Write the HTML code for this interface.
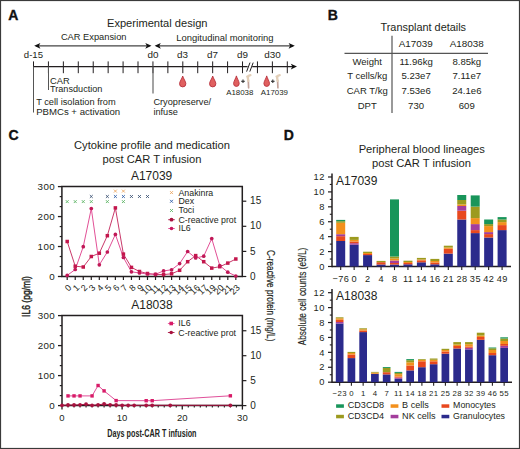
<!DOCTYPE html>
<html><head><meta charset="utf-8"><style>
html,body{margin:0;padding:0;background:#fff;}
svg{display:block;font-family:"Liberation Sans", sans-serif;}
</style></head><body>
<svg width="520" height="449" viewBox="0 0 520 449">
<rect x="0.5" y="0.5" width="519" height="448" fill="#fff" stroke="#3a3a3a" stroke-width="1.2"/>
<text x="8.20" y="19.60" font-size="14" text-anchor="start" font-weight="bold" fill="#111" stroke="#111" stroke-width="0.35">A</text>
<text x="107.00" y="26.90" font-size="11.1" text-anchor="start" font-weight="normal" fill="#231f20" >Experimental design</text>
<text x="60.90" y="40.30" font-size="9.3" text-anchor="start" font-weight="normal" fill="#231f20" >CAR Expansion</text>
<text x="176.30" y="40.70" font-size="9.42" text-anchor="start" font-weight="normal" fill="#231f20" >Longitudinal monitoring</text>
<line x1="36.00" y1="45.80" x2="149.50" y2="45.80" stroke="#444" stroke-width="1.3" />
<line x1="156.50" y1="45.80" x2="293.00" y2="45.80" stroke="#444" stroke-width="1.3" />
<path d="M34.20,45.80 L40.40,42.90 L38.85,45.80 L40.40,48.70 Z" fill="#111"/>
<path d="M151.50,45.80 L145.30,42.90 L146.85,45.80 L145.30,48.70 Z" fill="#111"/>
<path d="M154.60,45.80 L160.80,42.90 L159.25,45.80 L160.80,48.70 Z" fill="#111"/>
<path d="M294.80,45.80 L288.60,42.90 L290.15,45.80 L288.60,48.70 Z" fill="#111"/>
<text x="23.80" y="58.00" font-size="9.6" text-anchor="start" font-weight="normal" fill="#231f20" >d-15</text>
<text x="152.90" y="58.00" font-size="9.9" text-anchor="middle" font-weight="normal" fill="#231f20" >d0</text>
<text x="182.60" y="58.00" font-size="9.9" text-anchor="middle" font-weight="normal" fill="#231f20" >d3</text>
<text x="212.60" y="58.00" font-size="9.9" text-anchor="middle" font-weight="normal" fill="#231f20" >d7</text>
<text x="242.60" y="58.00" font-size="9.9" text-anchor="middle" font-weight="normal" fill="#231f20" >d9</text>
<text x="272.40" y="58.00" font-size="9.9" text-anchor="middle" font-weight="normal" fill="#231f20" >d30</text>
<line x1="33.50" y1="66.60" x2="247.60" y2="66.60" stroke="#231f20" stroke-width="1.1" />
<line x1="252.20" y1="66.60" x2="294.00" y2="66.60" stroke="#231f20" stroke-width="1.1" />
<path d="M297.00,66.60 L290.80,63.70 L292.35,66.60 L290.80,69.50 Z" fill="#111"/>
<line x1="33.50" y1="61.40" x2="33.50" y2="73.20" stroke="#231f20" stroke-width="1" />
<line x1="48.43" y1="61.40" x2="48.43" y2="73.20" stroke="#231f20" stroke-width="1" />
<line x1="63.36" y1="61.40" x2="63.36" y2="73.20" stroke="#231f20" stroke-width="1" />
<line x1="78.29" y1="61.40" x2="78.29" y2="73.20" stroke="#231f20" stroke-width="1" />
<line x1="93.22" y1="61.40" x2="93.22" y2="73.20" stroke="#231f20" stroke-width="1" />
<line x1="108.15" y1="61.40" x2="108.15" y2="73.20" stroke="#231f20" stroke-width="1" />
<line x1="123.08" y1="61.40" x2="123.08" y2="73.20" stroke="#231f20" stroke-width="1" />
<line x1="138.01" y1="61.40" x2="138.01" y2="73.20" stroke="#231f20" stroke-width="1" />
<line x1="152.94" y1="61.40" x2="152.94" y2="73.20" stroke="#231f20" stroke-width="1" />
<line x1="167.87" y1="61.40" x2="167.87" y2="73.20" stroke="#231f20" stroke-width="1" />
<line x1="182.80" y1="61.40" x2="182.80" y2="73.20" stroke="#231f20" stroke-width="1" />
<line x1="197.73" y1="61.40" x2="197.73" y2="73.20" stroke="#231f20" stroke-width="1" />
<line x1="212.66" y1="61.40" x2="212.66" y2="73.20" stroke="#231f20" stroke-width="1" />
<line x1="227.59" y1="61.40" x2="227.59" y2="73.20" stroke="#231f20" stroke-width="1" />
<line x1="242.52" y1="61.40" x2="242.52" y2="73.20" stroke="#231f20" stroke-width="1" />
<line x1="257.45" y1="61.40" x2="257.45" y2="73.20" stroke="#231f20" stroke-width="1" />
<line x1="272.38" y1="61.40" x2="272.38" y2="73.20" stroke="#231f20" stroke-width="1" />
<line x1="287.31" y1="61.40" x2="287.31" y2="73.20" stroke="#231f20" stroke-width="1" />
<line x1="33.50" y1="66.60" x2="33.50" y2="112.50" stroke="#555" stroke-width="1" />
<line x1="48.50" y1="66.60" x2="48.50" y2="90.00" stroke="#555" stroke-width="1" />
<line x1="153.00" y1="66.60" x2="153.00" y2="93.50" stroke="#666" stroke-width="1.2" />
<line x1="246.60" y1="71.60" x2="250.00" y2="62.60" stroke="#231f20" stroke-width="1" />
<line x1="249.80" y1="71.60" x2="253.20" y2="62.60" stroke="#231f20" stroke-width="1" />
<text x="50.00" y="83.80" font-size="9.3" text-anchor="start" font-weight="normal" fill="#231f20" >CAR</text>
<text x="50.00" y="91.50" font-size="9.15" text-anchor="start" font-weight="normal" fill="#231f20" >Transduction</text>
<text x="36.20" y="104.80" font-size="9.25" text-anchor="start" font-weight="normal" fill="#231f20" >T cell isolation from</text>
<text x="36.20" y="115.10" font-size="9.6" text-anchor="start" font-weight="normal" fill="#231f20" >PBMCs + activation</text>
<text x="153.40" y="104.80" font-size="9.2" text-anchor="start" font-weight="normal" fill="#231f20" >Cryopreserve/</text>
<text x="153.40" y="115.10" font-size="9.2" text-anchor="start" font-weight="normal" fill="#231f20" >infuse</text>
<path d="M182.70,76.00 C183.30,78.50 185.85,81.55 185.85,83.75 A3.15,3.15 0 0 1 179.55,83.75 C179.55,81.55 182.10,78.50 182.70,76.00 Z" fill="#e0605f" stroke="#b8303c" stroke-width="0.9"/>
<path d="M212.70,76.00 C213.30,78.50 215.85,81.55 215.85,83.75 A3.15,3.15 0 0 1 209.55,83.75 C209.55,81.55 212.10,78.50 212.70,76.00 Z" fill="#e0605f" stroke="#b8303c" stroke-width="0.9"/>
<path d="M236.40,75.90 C237.00,78.40 239.20,81.40 239.20,83.60 A2.80,2.80 0 0 1 233.60,83.60 C233.60,81.40 235.80,78.40 236.40,75.90 Z" fill="#e0605f" stroke="#b8303c" stroke-width="0.9"/>
<line x1="241.20" y1="81.30" x2="244.80" y2="81.30" stroke="#333" stroke-width="1.1" />
<line x1="243.00" y1="79.50" x2="243.00" y2="83.10" stroke="#333" stroke-width="1.1" />
<path d="M248.60,87.80 L248.30,80.30" fill="none" stroke="#c4a39a" stroke-width="1.7" stroke-linecap="round"/>
<path d="M248.30,80.80 L247.80,77.80 Q248.00,75.50 250.40,75.20" fill="none" stroke="#e3cfb8" stroke-width="2.3" stroke-linecap="round"/>
<circle cx="247.20" cy="76.60" r="1.1" fill="#e3cfb8"/>
<path d="M266.70,75.90 C267.30,78.40 269.50,81.40 269.50,83.60 A2.80,2.80 0 0 1 263.90,83.60 C263.90,81.40 266.10,78.40 266.70,75.90 Z" fill="#e0605f" stroke="#b8303c" stroke-width="0.9"/>
<line x1="271.00" y1="81.30" x2="274.60" y2="81.30" stroke="#333" stroke-width="1.1" />
<line x1="272.80" y1="79.50" x2="272.80" y2="83.10" stroke="#333" stroke-width="1.1" />
<path d="M277.90,87.80 L277.60,80.30" fill="none" stroke="#c4a39a" stroke-width="1.7" stroke-linecap="round"/>
<path d="M277.60,80.80 L277.10,77.80 Q277.30,75.50 279.70,75.20" fill="none" stroke="#e3cfb8" stroke-width="2.3" stroke-linecap="round"/>
<circle cx="276.50" cy="76.60" r="1.1" fill="#e3cfb8"/>
<text x="239.80" y="94.60" font-size="7.9" text-anchor="middle" font-weight="normal" fill="#231f20" >A18038</text>
<text x="274.40" y="94.60" font-size="7.9" text-anchor="middle" font-weight="normal" fill="#231f20" >A17039</text>
<text x="327.80" y="20.10" font-size="14" text-anchor="start" font-weight="bold" fill="#111" stroke="#111" stroke-width="0.35">B</text>
<text x="380.50" y="31.00" font-size="10.9" text-anchor="start" font-weight="normal" fill="#231f20" >Transplant details</text>
<line x1="392.00" y1="35.80" x2="392.00" y2="113.00" stroke="#555" stroke-width="1.2" />
<line x1="344.50" y1="53.30" x2="488.00" y2="53.30" stroke="#555" stroke-width="1.2" />
<text x="415.70" y="46.50" font-size="9.9" text-anchor="middle" font-weight="normal" fill="#231f20" >A17039</text>
<text x="466.70" y="46.50" font-size="9.9" text-anchor="middle" font-weight="normal" fill="#231f20" >A18038</text>
<text x="367.20" y="64.60" font-size="9.5" text-anchor="middle" font-weight="normal" fill="#231f20" >Weight</text>
<text x="416.10" y="64.60" font-size="9.6" text-anchor="middle" font-weight="normal" fill="#231f20" >11.96kg</text>
<text x="466.80" y="64.60" font-size="9.6" text-anchor="middle" font-weight="normal" fill="#231f20" >8.85kg</text>
<text x="367.20" y="79.10" font-size="9.5" text-anchor="middle" font-weight="normal" fill="#231f20" >T cells/kg</text>
<text x="416.10" y="79.10" font-size="9.6" text-anchor="middle" font-weight="normal" fill="#231f20" >5.23e7</text>
<text x="466.80" y="79.10" font-size="9.6" text-anchor="middle" font-weight="normal" fill="#231f20" >7.11e7</text>
<text x="367.20" y="93.80" font-size="9.5" text-anchor="middle" font-weight="normal" fill="#231f20" >CAR T/kg</text>
<text x="416.10" y="93.80" font-size="9.6" text-anchor="middle" font-weight="normal" fill="#231f20" >7.53e6</text>
<text x="466.80" y="93.80" font-size="9.6" text-anchor="middle" font-weight="normal" fill="#231f20" >24.1e6</text>
<text x="367.20" y="108.60" font-size="9.5" text-anchor="middle" font-weight="normal" fill="#231f20" >DPT</text>
<text x="416.10" y="108.60" font-size="9.6" text-anchor="middle" font-weight="normal" fill="#231f20" >730</text>
<text x="466.80" y="108.60" font-size="9.6" text-anchor="middle" font-weight="normal" fill="#231f20" >609</text>
<text x="8.40" y="139.50" font-size="14" text-anchor="start" font-weight="bold" fill="#111" stroke="#111" stroke-width="0.35">C</text>
<text x="152.00" y="148.60" font-size="11.2" text-anchor="middle" font-weight="normal" fill="#231f20" >Cytokine profile and medication</text>
<text x="152.00" y="162.70" font-size="11.2" text-anchor="middle" font-weight="normal" fill="#231f20" >post CAR T infusion</text>
<text x="151.60" y="179.90" font-size="12" text-anchor="middle" font-weight="normal" fill="#231f20" >A17039</text>
<text x="151.90" y="308.90" font-size="12" text-anchor="middle" font-weight="normal" fill="#231f20" >A18038</text>
<path d="M61.9,276.5 L61.9,186.6 L242.3,186.6 L242.3,276.5 Z" fill="none" stroke="#231f20" stroke-width="1.5"/>
<line x1="57.90" y1="276.50" x2="61.90" y2="276.50" stroke="#231f20" stroke-width="1.3" />
<text x="55.00" y="279.80" font-size="9.8" text-anchor="end" font-weight="normal" fill="#231f20" letter-spacing="0.35">0</text>
<line x1="59.70" y1="266.51" x2="61.90" y2="266.51" stroke="#231f20" stroke-width="1.2" />
<line x1="59.70" y1="256.52" x2="61.90" y2="256.52" stroke="#231f20" stroke-width="1.2" />
<line x1="57.90" y1="246.53" x2="61.90" y2="246.53" stroke="#231f20" stroke-width="1.3" />
<text x="55.00" y="249.83" font-size="9.8" text-anchor="end" font-weight="normal" fill="#231f20" letter-spacing="0.35">100</text>
<line x1="59.70" y1="236.54" x2="61.90" y2="236.54" stroke="#231f20" stroke-width="1.2" />
<line x1="59.70" y1="226.56" x2="61.90" y2="226.56" stroke="#231f20" stroke-width="1.2" />
<line x1="57.90" y1="216.57" x2="61.90" y2="216.57" stroke="#231f20" stroke-width="1.3" />
<text x="55.00" y="219.87" font-size="9.8" text-anchor="end" font-weight="normal" fill="#231f20" letter-spacing="0.35">200</text>
<line x1="59.70" y1="206.58" x2="61.90" y2="206.58" stroke="#231f20" stroke-width="1.2" />
<line x1="59.70" y1="196.59" x2="61.90" y2="196.59" stroke="#231f20" stroke-width="1.2" />
<line x1="57.90" y1="186.60" x2="61.90" y2="186.60" stroke="#231f20" stroke-width="1.3" />
<text x="55.00" y="189.90" font-size="9.8" text-anchor="end" font-weight="normal" fill="#231f20" letter-spacing="0.35">300</text>
<line x1="242.30" y1="276.50" x2="246.30" y2="276.50" stroke="#231f20" stroke-width="1.2" />
<text x="250.10" y="279.60" font-size="10" text-anchor="start" font-weight="normal" fill="#231f20" >0</text>
<line x1="242.30" y1="251.40" x2="246.30" y2="251.40" stroke="#231f20" stroke-width="1.2" />
<text x="250.10" y="254.50" font-size="10" text-anchor="start" font-weight="normal" fill="#231f20" >5</text>
<line x1="242.30" y1="226.30" x2="246.30" y2="226.30" stroke="#231f20" stroke-width="1.2" />
<text x="250.10" y="229.40" font-size="10" text-anchor="start" font-weight="normal" fill="#231f20" >10</text>
<line x1="242.30" y1="201.20" x2="246.30" y2="201.20" stroke="#231f20" stroke-width="1.2" />
<text x="250.10" y="204.30" font-size="10" text-anchor="start" font-weight="normal" fill="#231f20" >15</text>
<line x1="67.20" y1="276.50" x2="67.20" y2="280.00" stroke="#231f20" stroke-width="1.2" />
<text x="71.90" y="288.20" font-size="8.9" text-anchor="end" font-weight="normal" fill="#231f20" transform="rotate(-45 71.90 288.2)">0</text>
<line x1="75.23" y1="276.50" x2="75.23" y2="280.00" stroke="#231f20" stroke-width="1.2" />
<text x="79.93" y="288.20" font-size="8.9" text-anchor="end" font-weight="normal" fill="#231f20" transform="rotate(-45 79.93 288.2)">1</text>
<line x1="83.26" y1="276.50" x2="83.26" y2="280.00" stroke="#231f20" stroke-width="1.2" />
<text x="87.96" y="288.20" font-size="8.9" text-anchor="end" font-weight="normal" fill="#231f20" transform="rotate(-45 87.96 288.2)">2</text>
<line x1="91.29" y1="276.50" x2="91.29" y2="280.00" stroke="#231f20" stroke-width="1.2" />
<text x="95.99" y="288.20" font-size="8.9" text-anchor="end" font-weight="normal" fill="#231f20" transform="rotate(-45 95.99 288.2)">3</text>
<line x1="99.32" y1="276.50" x2="99.32" y2="280.00" stroke="#231f20" stroke-width="1.2" />
<text x="104.02" y="288.20" font-size="8.9" text-anchor="end" font-weight="normal" fill="#231f20" transform="rotate(-45 104.02 288.2)">4</text>
<line x1="107.35" y1="276.50" x2="107.35" y2="280.00" stroke="#231f20" stroke-width="1.2" />
<text x="112.05" y="288.20" font-size="8.9" text-anchor="end" font-weight="normal" fill="#231f20" transform="rotate(-45 112.05 288.2)">5</text>
<line x1="115.38" y1="276.50" x2="115.38" y2="280.00" stroke="#231f20" stroke-width="1.2" />
<text x="120.08" y="288.20" font-size="8.9" text-anchor="end" font-weight="normal" fill="#231f20" transform="rotate(-45 120.08 288.2)">6</text>
<line x1="123.41" y1="276.50" x2="123.41" y2="280.00" stroke="#231f20" stroke-width="1.2" />
<text x="128.11" y="288.20" font-size="8.9" text-anchor="end" font-weight="normal" fill="#231f20" transform="rotate(-45 128.11 288.2)">7</text>
<line x1="131.44" y1="276.50" x2="131.44" y2="280.00" stroke="#231f20" stroke-width="1.2" />
<text x="136.14" y="288.20" font-size="8.9" text-anchor="end" font-weight="normal" fill="#231f20" transform="rotate(-45 136.14 288.2)">8</text>
<line x1="139.47" y1="276.50" x2="139.47" y2="280.00" stroke="#231f20" stroke-width="1.2" />
<text x="144.17" y="288.20" font-size="8.9" text-anchor="end" font-weight="normal" fill="#231f20" transform="rotate(-45 144.17 288.2)">9</text>
<line x1="147.50" y1="276.50" x2="147.50" y2="280.00" stroke="#231f20" stroke-width="1.2" />
<text x="152.20" y="288.20" font-size="8.9" text-anchor="end" font-weight="normal" fill="#231f20" transform="rotate(-45 152.20 288.2)">10</text>
<line x1="155.53" y1="276.50" x2="155.53" y2="280.00" stroke="#231f20" stroke-width="1.2" />
<text x="160.23" y="288.20" font-size="8.9" text-anchor="end" font-weight="normal" fill="#231f20" transform="rotate(-45 160.23 288.2)">11</text>
<line x1="163.56" y1="276.50" x2="163.56" y2="280.00" stroke="#231f20" stroke-width="1.2" />
<text x="168.26" y="288.20" font-size="8.9" text-anchor="end" font-weight="normal" fill="#231f20" transform="rotate(-45 168.26 288.2)">12</text>
<line x1="171.59" y1="276.50" x2="171.59" y2="280.00" stroke="#231f20" stroke-width="1.2" />
<text x="176.29" y="288.20" font-size="8.9" text-anchor="end" font-weight="normal" fill="#231f20" transform="rotate(-45 176.29 288.2)">13</text>
<line x1="179.62" y1="276.50" x2="179.62" y2="280.00" stroke="#231f20" stroke-width="1.2" />
<text x="184.32" y="288.20" font-size="8.9" text-anchor="end" font-weight="normal" fill="#231f20" transform="rotate(-45 184.32 288.2)">14</text>
<line x1="187.65" y1="276.50" x2="187.65" y2="280.00" stroke="#231f20" stroke-width="1.2" />
<text x="192.35" y="288.20" font-size="8.9" text-anchor="end" font-weight="normal" fill="#231f20" transform="rotate(-45 192.35 288.2)">15</text>
<line x1="195.68" y1="276.50" x2="195.68" y2="280.00" stroke="#231f20" stroke-width="1.2" />
<text x="200.38" y="288.20" font-size="8.9" text-anchor="end" font-weight="normal" fill="#231f20" transform="rotate(-45 200.38 288.2)">16</text>
<line x1="203.71" y1="276.50" x2="203.71" y2="280.00" stroke="#231f20" stroke-width="1.2" />
<text x="208.41" y="288.20" font-size="8.9" text-anchor="end" font-weight="normal" fill="#231f20" transform="rotate(-45 208.41 288.2)">17</text>
<line x1="211.74" y1="276.50" x2="211.74" y2="280.00" stroke="#231f20" stroke-width="1.2" />
<text x="216.44" y="288.20" font-size="8.9" text-anchor="end" font-weight="normal" fill="#231f20" transform="rotate(-45 216.44 288.2)">19</text>
<line x1="219.77" y1="276.50" x2="219.77" y2="280.00" stroke="#231f20" stroke-width="1.2" />
<text x="224.47" y="288.20" font-size="8.9" text-anchor="end" font-weight="normal" fill="#231f20" transform="rotate(-45 224.47 288.2)">20</text>
<line x1="227.80" y1="276.50" x2="227.80" y2="280.00" stroke="#231f20" stroke-width="1.2" />
<text x="232.50" y="288.20" font-size="8.9" text-anchor="end" font-weight="normal" fill="#231f20" transform="rotate(-45 232.50 288.2)">21</text>
<line x1="235.83" y1="276.50" x2="235.83" y2="280.00" stroke="#231f20" stroke-width="1.2" />
<text x="240.53" y="288.20" font-size="8.9" text-anchor="end" font-weight="normal" fill="#231f20" transform="rotate(-45 240.53 288.2)">23</text>
<polyline points="67.20,241.5 75.23,266.2 83.26,267 91.29,256.5 99.32,253.2 107.35,235.7 115.38,207.9 123.41,254.1 131.44,267.4 139.47,271.5 147.50,273.5 155.53,274.4 163.56,274.6 171.59,273.8 179.62,270.3 187.65,261.7 195.68,255.6 203.71,261.7 211.74,268.1 219.77,266.7 227.80,263.1 235.83,259" fill="none" stroke="#c9396a" stroke-width="1"/>
<polyline points="67.20,275.4 75.23,269.5 83.26,246.7 91.29,208.5 99.32,264.8 107.35,252 115.38,234.4 123.41,257.5 131.44,271.8 139.47,273 147.50,274 155.53,274.3 163.56,270.9 171.59,269.8 179.62,263.6 187.65,251.5 195.68,258 203.71,256.2 211.74,238.6 219.77,265.6 227.80,272.2 235.83,276" fill="none" stroke="#e25096" stroke-width="1"/>
<rect x="65.45" y="239.75" width="3.50" height="3.50" fill="#c3164c"/>
<rect x="73.48" y="264.45" width="3.50" height="3.50" fill="#c3164c"/>
<rect x="81.51" y="265.25" width="3.50" height="3.50" fill="#c3164c"/>
<rect x="89.54" y="254.75" width="3.50" height="3.50" fill="#c3164c"/>
<rect x="97.57" y="251.45" width="3.50" height="3.50" fill="#c3164c"/>
<rect x="105.60" y="233.95" width="3.50" height="3.50" fill="#c3164c"/>
<rect x="113.63" y="206.15" width="3.50" height="3.50" fill="#c3164c"/>
<rect x="121.66" y="252.35" width="3.50" height="3.50" fill="#c3164c"/>
<rect x="129.69" y="265.65" width="3.50" height="3.50" fill="#c3164c"/>
<rect x="137.72" y="269.75" width="3.50" height="3.50" fill="#c3164c"/>
<rect x="145.75" y="271.75" width="3.50" height="3.50" fill="#c3164c"/>
<rect x="153.78" y="272.65" width="3.50" height="3.50" fill="#c3164c"/>
<rect x="161.81" y="272.85" width="3.50" height="3.50" fill="#c3164c"/>
<rect x="169.84" y="272.05" width="3.50" height="3.50" fill="#c3164c"/>
<rect x="177.87" y="268.55" width="3.50" height="3.50" fill="#c3164c"/>
<rect x="185.90" y="259.95" width="3.50" height="3.50" fill="#c3164c"/>
<rect x="193.93" y="253.85" width="3.50" height="3.50" fill="#c3164c"/>
<rect x="201.96" y="259.95" width="3.50" height="3.50" fill="#c3164c"/>
<rect x="209.99" y="266.35" width="3.50" height="3.50" fill="#c3164c"/>
<rect x="218.02" y="264.95" width="3.50" height="3.50" fill="#c3164c"/>
<rect x="226.05" y="261.35" width="3.50" height="3.50" fill="#c3164c"/>
<rect x="234.08" y="257.25" width="3.50" height="3.50" fill="#c3164c"/>
<circle cx="67.20" cy="275.4" r="1.85" fill="#c01857"/>
<circle cx="75.23" cy="269.5" r="1.85" fill="#c01857"/>
<circle cx="83.26" cy="246.7" r="1.85" fill="#c01857"/>
<circle cx="91.29" cy="208.5" r="1.85" fill="#c01857"/>
<circle cx="99.32" cy="264.8" r="1.85" fill="#c01857"/>
<circle cx="107.35" cy="252" r="1.85" fill="#c01857"/>
<circle cx="115.38" cy="234.4" r="1.85" fill="#c01857"/>
<circle cx="123.41" cy="257.5" r="1.85" fill="#c01857"/>
<circle cx="131.44" cy="271.8" r="1.85" fill="#c01857"/>
<circle cx="139.47" cy="273" r="1.85" fill="#c01857"/>
<circle cx="147.50" cy="274" r="1.85" fill="#c01857"/>
<circle cx="155.53" cy="274.3" r="1.85" fill="#c01857"/>
<circle cx="163.56" cy="270.9" r="1.85" fill="#c01857"/>
<circle cx="171.59" cy="269.8" r="1.85" fill="#c01857"/>
<circle cx="179.62" cy="263.6" r="1.85" fill="#c01857"/>
<circle cx="187.65" cy="251.5" r="1.85" fill="#c01857"/>
<circle cx="195.68" cy="258" r="1.85" fill="#c01857"/>
<circle cx="203.71" cy="256.2" r="1.85" fill="#c01857"/>
<circle cx="211.74" cy="238.6" r="1.85" fill="#c01857"/>
<circle cx="219.77" cy="265.6" r="1.85" fill="#c01857"/>
<circle cx="227.80" cy="272.2" r="1.85" fill="#c01857"/>
<circle cx="235.83" cy="276" r="1.85" fill="#c01857"/>
<path d="M113.93,189.65 L116.83,192.55 M116.83,189.65 L113.93,192.55" stroke="#eba763" stroke-width="0.9" fill="none"/>
<path d="M121.96,189.65 L124.86,192.55 M124.86,189.65 L121.96,192.55" stroke="#eba763" stroke-width="0.9" fill="none"/>
<path d="M89.84,195.05 L92.74,197.95 M92.74,195.05 L89.84,197.95" stroke="#3c5274" stroke-width="0.9" fill="none"/>
<path d="M105.90,195.05 L108.80,197.95 M108.80,195.05 L105.90,197.95" stroke="#3c5274" stroke-width="0.9" fill="none"/>
<path d="M113.93,195.05 L116.83,197.95 M116.83,195.05 L113.93,197.95" stroke="#2f5fa8" stroke-width="0.9" fill="none"/>
<path d="M121.96,195.05 L124.86,197.95 M124.86,195.05 L121.96,197.95" stroke="#2f5fa8" stroke-width="0.9" fill="none"/>
<path d="M129.99,195.05 L132.89,197.95 M132.89,195.05 L129.99,197.95" stroke="#3c5274" stroke-width="0.9" fill="none"/>
<path d="M138.02,195.05 L140.92,197.95 M140.92,195.05 L138.02,197.95" stroke="#3c5274" stroke-width="0.9" fill="none"/>
<path d="M146.05,195.05 L148.95,197.95 M148.95,195.05 L146.05,197.95" stroke="#3c5274" stroke-width="0.9" fill="none"/>
<path d="M65.75,200.15 L68.65,203.05 M68.65,200.15 L65.75,203.05" stroke="#5db565" stroke-width="0.9" fill="none"/>
<path d="M73.78,200.15 L76.68,203.05 M76.68,200.15 L73.78,203.05" stroke="#5db565" stroke-width="0.9" fill="none"/>
<path d="M81.81,200.15 L84.71,203.05 M84.71,200.15 L81.81,203.05" stroke="#5db565" stroke-width="0.9" fill="none"/>
<path d="M89.84,200.15 L92.74,203.05 M92.74,200.15 L89.84,203.05" stroke="#5db565" stroke-width="0.9" fill="none"/>
<path d="M105.90,200.15 L108.80,203.05 M108.80,200.15 L105.90,203.05" stroke="#5db565" stroke-width="0.9" fill="none"/>
<path d="M121.96,200.15 L124.86,203.05 M124.86,200.15 L121.96,203.05" stroke="#5db565" stroke-width="0.9" fill="none"/>
<path d="M170.05,191.15 L172.95,194.05 M172.95,191.15 L170.05,194.05" stroke="#eba763" stroke-width="0.9" fill="none"/>
<text x="178.50" y="195.50" font-size="8.8" text-anchor="start" font-weight="normal" fill="#231f20" >Anakinra</text>
<path d="M170.05,199.85 L172.95,202.75 M172.95,199.85 L170.05,202.75" stroke="#2f5fa8" stroke-width="0.9" fill="none"/>
<text x="178.50" y="204.20" font-size="8.8" text-anchor="start" font-weight="normal" fill="#231f20" >Dex</text>
<path d="M170.05,209.05 L172.95,211.95 M172.95,209.05 L170.05,211.95" stroke="#5db565" stroke-width="0.9" fill="none"/>
<text x="178.50" y="213.40" font-size="8.8" text-anchor="start" font-weight="normal" fill="#231f20" >Toci</text>
<line x1="168.20" y1="219.70" x2="174.80" y2="219.70" stroke="#b01c48" stroke-width="0.9" />
<circle cx="171.5" cy="219.7" r="1.9" fill="#a8123f"/>
<text x="178.50" y="222.60" font-size="8.8" text-anchor="start" font-weight="normal" fill="#231f20" >C-reactive prot</text>
<line x1="168.20" y1="228.50" x2="174.80" y2="228.50" stroke="#e2559a" stroke-width="0.9" />
<circle cx="171.5" cy="228.5" r="1.8" fill="#c8185e"/>
<text x="178.50" y="231.20" font-size="8.8" text-anchor="start" font-weight="normal" fill="#231f20" >IL6</text>
<path d="M62,405.6 L62,315.6 L242.4,315.6 L242.4,405.6 Z" fill="none" stroke="#231f20" stroke-width="1.5"/>
<line x1="58.00" y1="405.60" x2="62.00" y2="405.60" stroke="#231f20" stroke-width="1.3" />
<text x="55.10" y="408.90" font-size="9.8" text-anchor="end" font-weight="normal" fill="#231f20" letter-spacing="0.35">0</text>
<line x1="59.80" y1="395.60" x2="62.00" y2="395.60" stroke="#231f20" stroke-width="1.2" />
<line x1="59.80" y1="385.60" x2="62.00" y2="385.60" stroke="#231f20" stroke-width="1.2" />
<line x1="58.00" y1="375.60" x2="62.00" y2="375.60" stroke="#231f20" stroke-width="1.3" />
<text x="55.10" y="378.90" font-size="9.8" text-anchor="end" font-weight="normal" fill="#231f20" letter-spacing="0.35">100</text>
<line x1="59.80" y1="365.60" x2="62.00" y2="365.60" stroke="#231f20" stroke-width="1.2" />
<line x1="59.80" y1="355.60" x2="62.00" y2="355.60" stroke="#231f20" stroke-width="1.2" />
<line x1="58.00" y1="345.60" x2="62.00" y2="345.60" stroke="#231f20" stroke-width="1.3" />
<text x="55.10" y="348.90" font-size="9.8" text-anchor="end" font-weight="normal" fill="#231f20" letter-spacing="0.35">200</text>
<line x1="59.80" y1="335.60" x2="62.00" y2="335.60" stroke="#231f20" stroke-width="1.2" />
<line x1="59.80" y1="325.60" x2="62.00" y2="325.60" stroke="#231f20" stroke-width="1.2" />
<line x1="58.00" y1="315.60" x2="62.00" y2="315.60" stroke="#231f20" stroke-width="1.3" />
<text x="55.10" y="318.90" font-size="9.8" text-anchor="end" font-weight="normal" fill="#231f20" letter-spacing="0.35">300</text>
<line x1="242.40" y1="405.60" x2="246.40" y2="405.60" stroke="#231f20" stroke-width="1.2" />
<text x="250.20" y="408.70" font-size="10" text-anchor="start" font-weight="normal" fill="#231f20" >0</text>
<line x1="242.40" y1="380.65" x2="246.40" y2="380.65" stroke="#231f20" stroke-width="1.2" />
<text x="250.20" y="383.75" font-size="10" text-anchor="start" font-weight="normal" fill="#231f20" >5</text>
<line x1="242.40" y1="355.70" x2="246.40" y2="355.70" stroke="#231f20" stroke-width="1.2" />
<text x="250.20" y="358.80" font-size="10" text-anchor="start" font-weight="normal" fill="#231f20" >10</text>
<line x1="242.40" y1="330.75" x2="246.40" y2="330.75" stroke="#231f20" stroke-width="1.2" />
<text x="250.20" y="333.85" font-size="10" text-anchor="start" font-weight="normal" fill="#231f20" >15</text>
<line x1="62.00" y1="405.60" x2="62.00" y2="409.60" stroke="#231f20" stroke-width="1.3" />
<text x="62.00" y="421.30" font-size="9.5" text-anchor="middle" font-weight="normal" fill="#231f20" >0</text>
<line x1="68.01" y1="405.60" x2="68.01" y2="407.60" stroke="#231f20" stroke-width="1.1" />
<line x1="74.03" y1="405.60" x2="74.03" y2="407.60" stroke="#231f20" stroke-width="1.1" />
<line x1="80.04" y1="405.60" x2="80.04" y2="407.60" stroke="#231f20" stroke-width="1.1" />
<line x1="86.05" y1="405.60" x2="86.05" y2="407.60" stroke="#231f20" stroke-width="1.1" />
<line x1="92.07" y1="405.60" x2="92.07" y2="407.60" stroke="#231f20" stroke-width="1.1" />
<line x1="98.08" y1="405.60" x2="98.08" y2="407.60" stroke="#231f20" stroke-width="1.1" />
<line x1="104.09" y1="405.60" x2="104.09" y2="407.60" stroke="#231f20" stroke-width="1.1" />
<line x1="110.11" y1="405.60" x2="110.11" y2="407.60" stroke="#231f20" stroke-width="1.1" />
<line x1="116.12" y1="405.60" x2="116.12" y2="407.60" stroke="#231f20" stroke-width="1.1" />
<line x1="122.13" y1="405.60" x2="122.13" y2="409.60" stroke="#231f20" stroke-width="1.3" />
<text x="122.13" y="421.30" font-size="9.5" text-anchor="middle" font-weight="normal" fill="#231f20" >10</text>
<line x1="128.15" y1="405.60" x2="128.15" y2="407.60" stroke="#231f20" stroke-width="1.1" />
<line x1="134.16" y1="405.60" x2="134.16" y2="407.60" stroke="#231f20" stroke-width="1.1" />
<line x1="140.17" y1="405.60" x2="140.17" y2="407.60" stroke="#231f20" stroke-width="1.1" />
<line x1="146.19" y1="405.60" x2="146.19" y2="407.60" stroke="#231f20" stroke-width="1.1" />
<line x1="152.20" y1="405.60" x2="152.20" y2="407.60" stroke="#231f20" stroke-width="1.1" />
<line x1="158.21" y1="405.60" x2="158.21" y2="407.60" stroke="#231f20" stroke-width="1.1" />
<line x1="164.23" y1="405.60" x2="164.23" y2="407.60" stroke="#231f20" stroke-width="1.1" />
<line x1="170.24" y1="405.60" x2="170.24" y2="407.60" stroke="#231f20" stroke-width="1.1" />
<line x1="176.25" y1="405.60" x2="176.25" y2="407.60" stroke="#231f20" stroke-width="1.1" />
<line x1="182.27" y1="405.60" x2="182.27" y2="409.60" stroke="#231f20" stroke-width="1.3" />
<text x="182.27" y="421.30" font-size="9.5" text-anchor="middle" font-weight="normal" fill="#231f20" >20</text>
<line x1="188.28" y1="405.60" x2="188.28" y2="407.60" stroke="#231f20" stroke-width="1.1" />
<line x1="194.29" y1="405.60" x2="194.29" y2="407.60" stroke="#231f20" stroke-width="1.1" />
<line x1="200.31" y1="405.60" x2="200.31" y2="407.60" stroke="#231f20" stroke-width="1.1" />
<line x1="206.32" y1="405.60" x2="206.32" y2="407.60" stroke="#231f20" stroke-width="1.1" />
<line x1="212.33" y1="405.60" x2="212.33" y2="407.60" stroke="#231f20" stroke-width="1.1" />
<line x1="218.35" y1="405.60" x2="218.35" y2="407.60" stroke="#231f20" stroke-width="1.1" />
<line x1="224.36" y1="405.60" x2="224.36" y2="407.60" stroke="#231f20" stroke-width="1.1" />
<line x1="230.37" y1="405.60" x2="230.37" y2="407.60" stroke="#231f20" stroke-width="1.1" />
<line x1="236.39" y1="405.60" x2="236.39" y2="407.60" stroke="#231f20" stroke-width="1.1" />
<line x1="242.40" y1="405.60" x2="242.40" y2="409.60" stroke="#231f20" stroke-width="1.3" />
<text x="242.40" y="421.30" font-size="9.5" text-anchor="middle" font-weight="normal" fill="#231f20" >30</text>
<polyline points="68.01,395.9 74.03,395.9 80.04,395.9 92.07,395.9 98.08,385.5 104.09,390.9 116.12,400.6 146.19,400.7 152.20,400.7 230.37,395.8" fill="none" stroke="#e0509a" stroke-width="1"/>
<polyline points="62.00,405.3 68.01,405 74.03,405 80.04,404.8 86.05,404.2 92.07,405.3 98.08,404.8 104.09,404 110.11,404.8 116.12,405 122.13,405.3 128.15,405.3 134.16,405.3 146.19,405.3 152.20,405.3 170.24,405.3 230.37,405.3" fill="none" stroke="#a8123f" stroke-width="1"/>
<rect x="66.31" y="394.20" width="3.40" height="3.40" fill="#d81b68"/>
<rect x="72.33" y="394.20" width="3.40" height="3.40" fill="#d81b68"/>
<rect x="78.34" y="394.20" width="3.40" height="3.40" fill="#d81b68"/>
<rect x="90.37" y="394.20" width="3.40" height="3.40" fill="#d81b68"/>
<rect x="96.38" y="383.80" width="3.40" height="3.40" fill="#d81b68"/>
<rect x="102.39" y="389.20" width="3.40" height="3.40" fill="#d81b68"/>
<rect x="114.42" y="398.90" width="3.40" height="3.40" fill="#d81b68"/>
<rect x="144.49" y="399.00" width="3.40" height="3.40" fill="#d81b68"/>
<rect x="150.50" y="399.00" width="3.40" height="3.40" fill="#d81b68"/>
<rect x="228.67" y="394.10" width="3.40" height="3.40" fill="#d81b68"/>
<circle cx="62.00" cy="405.3" r="1.9" fill="#a8123f"/>
<circle cx="68.01" cy="405" r="1.9" fill="#a8123f"/>
<circle cx="74.03" cy="405" r="1.9" fill="#a8123f"/>
<circle cx="80.04" cy="404.8" r="1.9" fill="#a8123f"/>
<circle cx="86.05" cy="404.2" r="1.9" fill="#a8123f"/>
<circle cx="92.07" cy="405.3" r="1.9" fill="#a8123f"/>
<circle cx="98.08" cy="404.8" r="1.9" fill="#a8123f"/>
<circle cx="104.09" cy="404" r="1.9" fill="#a8123f"/>
<circle cx="110.11" cy="404.8" r="1.9" fill="#a8123f"/>
<circle cx="116.12" cy="405" r="1.9" fill="#a8123f"/>
<circle cx="122.13" cy="405.3" r="1.9" fill="#a8123f"/>
<circle cx="128.15" cy="405.3" r="1.9" fill="#a8123f"/>
<circle cx="134.16" cy="405.3" r="1.9" fill="#a8123f"/>
<circle cx="146.19" cy="405.3" r="1.9" fill="#a8123f"/>
<circle cx="152.20" cy="405.3" r="1.9" fill="#a8123f"/>
<circle cx="170.24" cy="405.3" r="1.9" fill="#a8123f"/>
<circle cx="230.37" cy="405.3" r="1.9" fill="#a8123f"/>
<line x1="167.90" y1="323.50" x2="174.50" y2="323.50" stroke="#e2559a" stroke-width="0.9" />
<rect x="169.40" y="321.70" width="3.60" height="3.60" fill="#d81b68"/>
<text x="178.30" y="326.40" font-size="8.8" text-anchor="start" font-weight="normal" fill="#231f20" >IL6</text>
<line x1="167.90" y1="332.50" x2="174.50" y2="332.50" stroke="#a8123f" stroke-width="0.9" />
<circle cx="171.2" cy="332.5" r="1.8" fill="#a8123f"/>
<text x="178.30" y="335.50" font-size="8.8" text-anchor="start" font-weight="normal" fill="#231f20" >C-reactive prot</text>
<text x="30.30" y="296.50" font-size="11.8" font-weight="normal" text-anchor="middle" fill="#231f20" stroke="#231f20" stroke-width="0.45" textLength="40.8" lengthAdjust="spacingAndGlyphs" transform="rotate(-90 30.30 296.50)">IL6 (pg/ml)</text>
<text x="267.30" y="295.70" font-size="11.6" font-weight="normal" text-anchor="middle" fill="#231f20" stroke="#231f20" stroke-width="0.2" textLength="91.4" lengthAdjust="spacingAndGlyphs" transform="rotate(90 267.30 295.70)">C-reactive protein (mg/L)</text>
<text x="151.9" y="437.4" font-size="11" font-weight="bold" text-anchor="middle" fill="#231f20" textLength="89.2" lengthAdjust="spacingAndGlyphs">Days post-CAR T infusion</text>
<text x="283.70" y="139.60" font-size="14" text-anchor="start" font-weight="bold" fill="#111" stroke="#111" stroke-width="0.35">D</text>
<text x="421.80" y="152.60" font-size="11.2" text-anchor="middle" font-weight="normal" fill="#231f20" >Peripheral blood lineages</text>
<text x="421.50" y="167.10" font-size="11.2" text-anchor="middle" font-weight="normal" fill="#231f20" >post CAR T infusion</text>
<text x="306.10" y="296.50" font-size="11.4" font-weight="normal" text-anchor="middle" fill="#231f20" stroke="#231f20" stroke-width="0.15" textLength="97.5" lengthAdjust="spacingAndGlyphs" transform="rotate(-90 306.10 296.50)">Absolute cell counts (e9/L)</text>
<line x1="332.00" y1="173.38" x2="332.00" y2="267.20" stroke="#231f20" stroke-width="1.5" />
<line x1="332.00" y1="266.50" x2="511.00" y2="266.50" stroke="#231f20" stroke-width="1.5" />
<line x1="328.00" y1="266.50" x2="332.00" y2="266.50" stroke="#231f20" stroke-width="1.2" />
<text x="324.90" y="269.70" font-size="9.3" text-anchor="end" font-weight="normal" fill="#231f20" letter-spacing="0.5">0</text>
<line x1="329.80" y1="259.04" x2="332.00" y2="259.04" stroke="#231f20" stroke-width="1.1" />
<line x1="328.00" y1="251.58" x2="332.00" y2="251.58" stroke="#231f20" stroke-width="1.2" />
<text x="324.90" y="254.78" font-size="9.3" text-anchor="end" font-weight="normal" fill="#231f20" letter-spacing="0.5">2</text>
<line x1="329.80" y1="244.12" x2="332.00" y2="244.12" stroke="#231f20" stroke-width="1.1" />
<line x1="328.00" y1="236.66" x2="332.00" y2="236.66" stroke="#231f20" stroke-width="1.2" />
<text x="324.90" y="239.86" font-size="9.3" text-anchor="end" font-weight="normal" fill="#231f20" letter-spacing="0.5">4</text>
<line x1="329.80" y1="229.20" x2="332.00" y2="229.20" stroke="#231f20" stroke-width="1.1" />
<line x1="328.00" y1="221.74" x2="332.00" y2="221.74" stroke="#231f20" stroke-width="1.2" />
<text x="324.90" y="224.94" font-size="9.3" text-anchor="end" font-weight="normal" fill="#231f20" letter-spacing="0.5">6</text>
<line x1="329.80" y1="214.28" x2="332.00" y2="214.28" stroke="#231f20" stroke-width="1.1" />
<line x1="328.00" y1="206.82" x2="332.00" y2="206.82" stroke="#231f20" stroke-width="1.2" />
<text x="324.90" y="210.02" font-size="9.3" text-anchor="end" font-weight="normal" fill="#231f20" letter-spacing="0.5">8</text>
<line x1="329.80" y1="199.36" x2="332.00" y2="199.36" stroke="#231f20" stroke-width="1.1" />
<line x1="328.00" y1="191.90" x2="332.00" y2="191.90" stroke="#231f20" stroke-width="1.2" />
<text x="324.90" y="195.10" font-size="9.3" text-anchor="end" font-weight="normal" fill="#231f20" letter-spacing="0.5">10</text>
<line x1="329.80" y1="184.44" x2="332.00" y2="184.44" stroke="#231f20" stroke-width="1.1" />
<line x1="328.00" y1="176.98" x2="332.00" y2="176.98" stroke="#231f20" stroke-width="1.2" />
<text x="324.90" y="180.18" font-size="9.3" text-anchor="end" font-weight="normal" fill="#231f20" letter-spacing="0.5">12</text>
<text x="336.10" y="184.90" font-size="12" text-anchor="start" font-weight="normal" fill="#231f20" >A17039</text>
<rect x="336.20" y="241.00" width="9.00" height="25.50" fill="#2b2a8c"/>
<rect x="336.20" y="236.20" width="9.00" height="4.80" fill="#e8481e"/>
<rect x="336.20" y="234.20" width="9.00" height="2.00" fill="#a33d9c"/>
<rect x="336.20" y="222.80" width="9.00" height="11.40" fill="#f3901c"/>
<rect x="336.20" y="221.20" width="9.00" height="1.60" fill="#9c9a1e"/>
<rect x="336.20" y="219.90" width="9.00" height="1.30" fill="#18955a"/>
<line x1="340.70" y1="266.50" x2="340.70" y2="270.10" stroke="#231f20" stroke-width="1.1" />
<text x="340.92" y="282.40" font-size="9.2" text-anchor="middle" font-weight="normal" fill="#231f20" letter-spacing="0.45">−76</text>
<rect x="349.65" y="244.70" width="9.00" height="21.80" fill="#2b2a8c"/>
<rect x="349.65" y="243.20" width="9.00" height="1.50" fill="#a33d9c"/>
<rect x="349.65" y="241.50" width="9.00" height="1.70" fill="#e8481e"/>
<rect x="349.65" y="239.90" width="9.00" height="1.60" fill="#f3901c"/>
<rect x="349.65" y="236.90" width="9.00" height="3.00" fill="#9c9a1e"/>
<line x1="354.15" y1="266.50" x2="354.15" y2="270.10" stroke="#231f20" stroke-width="1.1" />
<text x="354.37" y="282.40" font-size="9.2" text-anchor="middle" font-weight="normal" fill="#231f20" letter-spacing="0.45">0</text>
<rect x="363.10" y="255.10" width="9.00" height="11.40" fill="#2b2a8c"/>
<rect x="363.10" y="254.00" width="9.00" height="1.10" fill="#e8481e"/>
<rect x="363.10" y="253.00" width="9.00" height="1.00" fill="#f3901c"/>
<rect x="363.10" y="251.70" width="9.00" height="1.30" fill="#9c9a1e"/>
<line x1="367.60" y1="266.50" x2="367.60" y2="270.10" stroke="#231f20" stroke-width="1.1" />
<text x="367.82" y="282.40" font-size="9.2" text-anchor="middle" font-weight="normal" fill="#231f20" letter-spacing="0.45">2</text>
<rect x="376.55" y="264.50" width="9.00" height="2.00" fill="#2b2a8c"/>
<rect x="376.55" y="262.20" width="9.00" height="2.30" fill="#e8481e"/>
<rect x="376.55" y="260.90" width="9.00" height="1.30" fill="#9c9a1e"/>
<line x1="381.05" y1="266.50" x2="381.05" y2="270.10" stroke="#231f20" stroke-width="1.1" />
<text x="381.27" y="282.40" font-size="9.2" text-anchor="middle" font-weight="normal" fill="#231f20" letter-spacing="0.45">4</text>
<rect x="390.00" y="264.50" width="9.00" height="2.00" fill="#2b2a8c"/>
<rect x="390.00" y="263.00" width="9.00" height="1.50" fill="#e8481e"/>
<rect x="390.00" y="260.50" width="9.00" height="2.50" fill="#a33d9c"/>
<rect x="390.00" y="258.50" width="9.00" height="2.00" fill="#f3901c"/>
<rect x="390.00" y="256.50" width="9.00" height="2.00" fill="#9c9a1e"/>
<rect x="390.00" y="199.40" width="9.00" height="57.10" fill="#18955a"/>
<line x1="394.50" y1="266.50" x2="394.50" y2="270.10" stroke="#231f20" stroke-width="1.1" />
<text x="394.72" y="282.40" font-size="9.2" text-anchor="middle" font-weight="normal" fill="#231f20" letter-spacing="0.45">8</text>
<rect x="403.45" y="264.30" width="9.00" height="2.20" fill="#2b2a8c"/>
<rect x="403.45" y="263.00" width="9.00" height="1.30" fill="#e8481e"/>
<rect x="403.45" y="262.00" width="9.00" height="1.00" fill="#f3901c"/>
<rect x="403.45" y="260.70" width="9.00" height="1.30" fill="#9c9a1e"/>
<line x1="407.95" y1="266.50" x2="407.95" y2="270.10" stroke="#231f20" stroke-width="1.1" />
<text x="408.17" y="282.40" font-size="9.2" text-anchor="middle" font-weight="normal" fill="#231f20" letter-spacing="0.45">11</text>
<rect x="416.90" y="262.30" width="9.00" height="4.20" fill="#2b2a8c"/>
<rect x="416.90" y="260.30" width="9.00" height="2.00" fill="#e8481e"/>
<rect x="416.90" y="259.50" width="9.00" height="0.80" fill="#f3901c"/>
<rect x="416.90" y="257.90" width="9.00" height="1.60" fill="#9c9a1e"/>
<line x1="421.40" y1="266.50" x2="421.40" y2="270.10" stroke="#231f20" stroke-width="1.1" />
<text x="421.62" y="282.40" font-size="9.2" text-anchor="middle" font-weight="normal" fill="#231f20" letter-spacing="0.45">14</text>
<rect x="430.35" y="264.30" width="9.00" height="2.20" fill="#2b2a8c"/>
<rect x="430.35" y="262.50" width="9.00" height="1.80" fill="#e8481e"/>
<rect x="430.35" y="261.00" width="9.00" height="1.50" fill="#f3901c"/>
<rect x="430.35" y="258.90" width="9.00" height="2.10" fill="#9c9a1e"/>
<line x1="434.85" y1="266.50" x2="434.85" y2="270.10" stroke="#231f20" stroke-width="1.1" />
<text x="435.07" y="282.40" font-size="9.2" text-anchor="middle" font-weight="normal" fill="#231f20" letter-spacing="0.45">16</text>
<rect x="443.80" y="253.60" width="9.00" height="12.90" fill="#2b2a8c"/>
<rect x="443.80" y="248.80" width="9.00" height="4.80" fill="#e8481e"/>
<rect x="443.80" y="247.50" width="9.00" height="1.30" fill="#f3901c"/>
<rect x="443.80" y="245.70" width="9.00" height="1.80" fill="#9c9a1e"/>
<line x1="448.30" y1="266.50" x2="448.30" y2="270.10" stroke="#231f20" stroke-width="1.1" />
<text x="448.52" y="282.40" font-size="9.2" text-anchor="middle" font-weight="normal" fill="#231f20" letter-spacing="0.45">21</text>
<rect x="457.25" y="219.50" width="9.00" height="47.00" fill="#2b2a8c"/>
<rect x="457.25" y="210.70" width="9.00" height="8.80" fill="#e8481e"/>
<rect x="457.25" y="206.00" width="9.00" height="4.70" fill="#a33d9c"/>
<rect x="457.25" y="204.40" width="9.00" height="1.60" fill="#f3901c"/>
<rect x="457.25" y="200.00" width="9.00" height="4.40" fill="#9c9a1e"/>
<rect x="457.25" y="195.00" width="9.00" height="5.00" fill="#18955a"/>
<line x1="461.75" y1="266.50" x2="461.75" y2="270.10" stroke="#231f20" stroke-width="1.1" />
<text x="461.97" y="282.40" font-size="9.2" text-anchor="middle" font-weight="normal" fill="#231f20" letter-spacing="0.45">28</text>
<rect x="470.70" y="233.10" width="9.00" height="33.40" fill="#2b2a8c"/>
<rect x="470.70" y="230.10" width="9.00" height="3.00" fill="#e8481e"/>
<rect x="470.70" y="224.10" width="9.00" height="6.00" fill="#a33d9c"/>
<rect x="470.70" y="218.10" width="9.00" height="6.00" fill="#f3901c"/>
<rect x="470.70" y="206.60" width="9.00" height="11.50" fill="#9c9a1e"/>
<rect x="470.70" y="195.40" width="9.00" height="11.20" fill="#18955a"/>
<line x1="475.20" y1="266.50" x2="475.20" y2="270.10" stroke="#231f20" stroke-width="1.1" />
<text x="475.42" y="282.40" font-size="9.2" text-anchor="middle" font-weight="normal" fill="#231f20" letter-spacing="0.45">35</text>
<rect x="484.15" y="237.50" width="9.00" height="29.00" fill="#2b2a8c"/>
<rect x="484.15" y="234.10" width="9.00" height="3.40" fill="#e8481e"/>
<rect x="484.15" y="232.10" width="9.00" height="2.00" fill="#a33d9c"/>
<rect x="484.15" y="226.10" width="9.00" height="6.00" fill="#f3901c"/>
<rect x="484.15" y="224.10" width="9.00" height="2.00" fill="#9c9a1e"/>
<rect x="484.15" y="219.50" width="9.00" height="4.60" fill="#18955a"/>
<line x1="488.65" y1="266.50" x2="488.65" y2="270.10" stroke="#231f20" stroke-width="1.1" />
<text x="488.87" y="282.40" font-size="9.2" text-anchor="middle" font-weight="normal" fill="#231f20" letter-spacing="0.45">42</text>
<rect x="497.60" y="230.10" width="9.00" height="36.40" fill="#2b2a8c"/>
<rect x="497.60" y="225.10" width="9.00" height="5.00" fill="#e8481e"/>
<rect x="497.60" y="222.10" width="9.00" height="3.00" fill="#f3901c"/>
<rect x="497.60" y="219.50" width="9.00" height="2.60" fill="#9c9a1e"/>
<rect x="497.60" y="217.10" width="9.00" height="2.40" fill="#18955a"/>
<line x1="502.10" y1="266.50" x2="502.10" y2="270.10" stroke="#231f20" stroke-width="1.1" />
<text x="502.32" y="282.40" font-size="9.2" text-anchor="middle" font-weight="normal" fill="#231f20" letter-spacing="0.45">49</text>
<line x1="332.00" y1="289.08" x2="332.00" y2="382.90" stroke="#231f20" stroke-width="1.5" />
<line x1="332.00" y1="382.20" x2="512.00" y2="382.20" stroke="#231f20" stroke-width="1.5" />
<line x1="328.00" y1="382.20" x2="332.00" y2="382.20" stroke="#231f20" stroke-width="1.2" />
<text x="324.90" y="385.40" font-size="9.3" text-anchor="end" font-weight="normal" fill="#231f20" letter-spacing="0.5">0</text>
<line x1="329.80" y1="374.74" x2="332.00" y2="374.74" stroke="#231f20" stroke-width="1.1" />
<line x1="328.00" y1="367.28" x2="332.00" y2="367.28" stroke="#231f20" stroke-width="1.2" />
<text x="324.90" y="370.48" font-size="9.3" text-anchor="end" font-weight="normal" fill="#231f20" letter-spacing="0.5">2</text>
<line x1="329.80" y1="359.82" x2="332.00" y2="359.82" stroke="#231f20" stroke-width="1.1" />
<line x1="328.00" y1="352.36" x2="332.00" y2="352.36" stroke="#231f20" stroke-width="1.2" />
<text x="324.90" y="355.56" font-size="9.3" text-anchor="end" font-weight="normal" fill="#231f20" letter-spacing="0.5">4</text>
<line x1="329.80" y1="344.90" x2="332.00" y2="344.90" stroke="#231f20" stroke-width="1.1" />
<line x1="328.00" y1="337.44" x2="332.00" y2="337.44" stroke="#231f20" stroke-width="1.2" />
<text x="324.90" y="340.64" font-size="9.3" text-anchor="end" font-weight="normal" fill="#231f20" letter-spacing="0.5">6</text>
<line x1="329.80" y1="329.98" x2="332.00" y2="329.98" stroke="#231f20" stroke-width="1.1" />
<line x1="328.00" y1="322.52" x2="332.00" y2="322.52" stroke="#231f20" stroke-width="1.2" />
<text x="324.90" y="325.72" font-size="9.3" text-anchor="end" font-weight="normal" fill="#231f20" letter-spacing="0.5">8</text>
<line x1="329.80" y1="315.06" x2="332.00" y2="315.06" stroke="#231f20" stroke-width="1.1" />
<line x1="328.00" y1="307.60" x2="332.00" y2="307.60" stroke="#231f20" stroke-width="1.2" />
<text x="324.90" y="310.80" font-size="9.3" text-anchor="end" font-weight="normal" fill="#231f20" letter-spacing="0.5">10</text>
<line x1="329.80" y1="300.14" x2="332.00" y2="300.14" stroke="#231f20" stroke-width="1.1" />
<line x1="328.00" y1="292.68" x2="332.00" y2="292.68" stroke="#231f20" stroke-width="1.2" />
<text x="324.90" y="295.88" font-size="9.3" text-anchor="end" font-weight="normal" fill="#231f20" letter-spacing="0.5">12</text>
<text x="336.10" y="300.30" font-size="12" text-anchor="start" font-weight="normal" fill="#231f20" >A18038</text>
<rect x="335.80" y="323.50" width="7.70" height="58.70" fill="#2b2a8c"/>
<rect x="335.80" y="322.00" width="7.70" height="1.50" fill="#a33d9c"/>
<rect x="335.80" y="319.80" width="7.70" height="2.20" fill="#e8481e"/>
<rect x="335.80" y="318.30" width="7.70" height="1.50" fill="#f3901c"/>
<rect x="335.80" y="317.30" width="7.70" height="1.00" fill="#9c9a1e"/>
<line x1="339.65" y1="382.20" x2="339.65" y2="385.80" stroke="#231f20" stroke-width="1.1" />
<text x="339.87" y="396.20" font-size="7.8" text-anchor="middle" font-weight="normal" fill="#231f20" letter-spacing="0.45">−23</text>
<rect x="347.55" y="358.10" width="7.70" height="24.10" fill="#2b2a8c"/>
<rect x="347.55" y="354.60" width="7.70" height="3.50" fill="#e8481e"/>
<rect x="347.55" y="353.00" width="7.70" height="1.60" fill="#f3901c"/>
<rect x="347.55" y="351.90" width="7.70" height="1.10" fill="#9c9a1e"/>
<line x1="351.40" y1="382.20" x2="351.40" y2="385.80" stroke="#231f20" stroke-width="1.1" />
<text x="351.62" y="396.20" font-size="7.8" text-anchor="middle" font-weight="normal" fill="#231f20" letter-spacing="0.45">0</text>
<rect x="359.30" y="332.10" width="7.70" height="50.10" fill="#2b2a8c"/>
<rect x="359.30" y="330.50" width="7.70" height="1.60" fill="#e8481e"/>
<rect x="359.30" y="329.30" width="7.70" height="1.20" fill="#f3901c"/>
<rect x="359.30" y="328.30" width="7.70" height="1.00" fill="#9c9a1e"/>
<line x1="363.15" y1="382.20" x2="363.15" y2="385.80" stroke="#231f20" stroke-width="1.1" />
<text x="363.37" y="396.20" font-size="7.8" text-anchor="middle" font-weight="normal" fill="#231f20" letter-spacing="0.45">1</text>
<rect x="371.05" y="373.80" width="7.70" height="8.40" fill="#2b2a8c"/>
<rect x="371.05" y="372.60" width="7.70" height="1.20" fill="#f3901c"/>
<rect x="371.05" y="371.90" width="7.70" height="0.70" fill="#9c9a1e"/>
<line x1="374.90" y1="382.20" x2="374.90" y2="385.80" stroke="#231f20" stroke-width="1.1" />
<text x="375.12" y="396.20" font-size="7.8" text-anchor="middle" font-weight="normal" fill="#231f20" letter-spacing="0.45">4</text>
<rect x="382.80" y="374.40" width="7.70" height="7.80" fill="#2b2a8c"/>
<rect x="382.80" y="372.20" width="7.70" height="2.20" fill="#e8481e"/>
<rect x="382.80" y="368.00" width="7.70" height="4.20" fill="#9c9a1e"/>
<rect x="382.80" y="367.10" width="7.70" height="0.90" fill="#18955a"/>
<line x1="386.65" y1="382.20" x2="386.65" y2="385.80" stroke="#231f20" stroke-width="1.1" />
<text x="386.87" y="396.20" font-size="7.8" text-anchor="middle" font-weight="normal" fill="#231f20" letter-spacing="0.45">7</text>
<rect x="394.55" y="378.80" width="7.70" height="3.40" fill="#2b2a8c"/>
<rect x="394.55" y="377.60" width="7.70" height="1.20" fill="#a33d9c"/>
<rect x="394.55" y="376.50" width="7.70" height="1.10" fill="#e8481e"/>
<rect x="394.55" y="374.20" width="7.70" height="2.30" fill="#f3901c"/>
<rect x="394.55" y="372.90" width="7.70" height="1.30" fill="#9c9a1e"/>
<rect x="394.55" y="371.90" width="7.70" height="1.00" fill="#18955a"/>
<line x1="398.40" y1="382.20" x2="398.40" y2="385.80" stroke="#231f20" stroke-width="1.1" />
<text x="398.62" y="396.20" font-size="7.8" text-anchor="middle" font-weight="normal" fill="#231f20" letter-spacing="0.45">11</text>
<rect x="406.30" y="370.40" width="7.70" height="11.80" fill="#2b2a8c"/>
<rect x="406.30" y="365.50" width="7.70" height="4.90" fill="#e8481e"/>
<rect x="406.30" y="362.30" width="7.70" height="3.20" fill="#f3901c"/>
<rect x="406.30" y="360.20" width="7.70" height="2.10" fill="#9c9a1e"/>
<rect x="406.30" y="359.10" width="7.70" height="1.10" fill="#18955a"/>
<line x1="410.15" y1="382.20" x2="410.15" y2="385.80" stroke="#231f20" stroke-width="1.1" />
<text x="410.37" y="396.20" font-size="7.8" text-anchor="middle" font-weight="normal" fill="#231f20" letter-spacing="0.45">14</text>
<rect x="418.05" y="367.20" width="7.70" height="15.00" fill="#2b2a8c"/>
<rect x="418.05" y="361.30" width="7.70" height="5.90" fill="#e8481e"/>
<rect x="418.05" y="360.00" width="7.70" height="1.30" fill="#f3901c"/>
<rect x="418.05" y="359.20" width="7.70" height="0.80" fill="#9c9a1e"/>
<line x1="421.90" y1="382.20" x2="421.90" y2="385.80" stroke="#231f20" stroke-width="1.1" />
<text x="422.12" y="396.20" font-size="7.8" text-anchor="middle" font-weight="normal" fill="#231f20" letter-spacing="0.45">18</text>
<rect x="429.80" y="364.20" width="7.70" height="18.00" fill="#2b2a8c"/>
<rect x="429.80" y="361.30" width="7.70" height="2.90" fill="#e8481e"/>
<rect x="429.80" y="359.80" width="7.70" height="1.50" fill="#f3901c"/>
<rect x="429.80" y="358.50" width="7.70" height="1.30" fill="#9c9a1e"/>
<line x1="433.65" y1="382.20" x2="433.65" y2="385.80" stroke="#231f20" stroke-width="1.1" />
<text x="433.87" y="396.20" font-size="7.8" text-anchor="middle" font-weight="normal" fill="#231f20" letter-spacing="0.45">21</text>
<rect x="441.55" y="353.70" width="7.70" height="28.50" fill="#2b2a8c"/>
<rect x="441.55" y="351.50" width="7.70" height="2.20" fill="#e8481e"/>
<rect x="441.55" y="350.00" width="7.70" height="1.50" fill="#f3901c"/>
<rect x="441.55" y="348.80" width="7.70" height="1.20" fill="#9c9a1e"/>
<line x1="445.40" y1="382.20" x2="445.40" y2="385.80" stroke="#231f20" stroke-width="1.1" />
<text x="445.62" y="396.20" font-size="7.8" text-anchor="middle" font-weight="normal" fill="#231f20" letter-spacing="0.45">25</text>
<rect x="453.30" y="348.50" width="7.70" height="33.70" fill="#2b2a8c"/>
<rect x="453.30" y="346.00" width="7.70" height="2.50" fill="#e8481e"/>
<rect x="453.30" y="344.50" width="7.70" height="1.50" fill="#f3901c"/>
<rect x="453.30" y="342.10" width="7.70" height="2.40" fill="#9c9a1e"/>
<line x1="457.15" y1="382.20" x2="457.15" y2="385.80" stroke="#231f20" stroke-width="1.1" />
<text x="457.37" y="396.20" font-size="7.8" text-anchor="middle" font-weight="normal" fill="#231f20" letter-spacing="0.45">28</text>
<rect x="465.05" y="349.40" width="7.70" height="32.80" fill="#2b2a8c"/>
<rect x="465.05" y="347.80" width="7.70" height="1.60" fill="#a33d9c"/>
<rect x="465.05" y="346.50" width="7.70" height="1.30" fill="#e8481e"/>
<rect x="465.05" y="344.20" width="7.70" height="2.30" fill="#f3901c"/>
<rect x="465.05" y="342.10" width="7.70" height="2.10" fill="#9c9a1e"/>
<line x1="468.90" y1="382.20" x2="468.90" y2="385.80" stroke="#231f20" stroke-width="1.1" />
<text x="469.12" y="396.20" font-size="7.8" text-anchor="middle" font-weight="normal" fill="#231f20" letter-spacing="0.45">32</text>
<rect x="476.80" y="339.80" width="7.70" height="42.40" fill="#2b2a8c"/>
<rect x="476.80" y="337.00" width="7.70" height="2.80" fill="#e8481e"/>
<rect x="476.80" y="335.50" width="7.70" height="1.50" fill="#f3901c"/>
<rect x="476.80" y="332.70" width="7.70" height="2.80" fill="#9c9a1e"/>
<line x1="480.65" y1="382.20" x2="480.65" y2="385.80" stroke="#231f20" stroke-width="1.1" />
<text x="480.87" y="396.20" font-size="7.8" text-anchor="middle" font-weight="normal" fill="#231f20" letter-spacing="0.45">39</text>
<rect x="488.55" y="355.20" width="7.70" height="27.00" fill="#2b2a8c"/>
<rect x="488.55" y="353.00" width="7.70" height="2.20" fill="#e8481e"/>
<rect x="488.55" y="350.00" width="7.70" height="3.00" fill="#f3901c"/>
<rect x="488.55" y="348.30" width="7.70" height="1.70" fill="#9c9a1e"/>
<rect x="488.55" y="347.50" width="7.70" height="0.80" fill="#18955a"/>
<line x1="492.40" y1="382.20" x2="492.40" y2="385.80" stroke="#231f20" stroke-width="1.1" />
<text x="492.62" y="396.20" font-size="7.8" text-anchor="middle" font-weight="normal" fill="#231f20" letter-spacing="0.45">46</text>
<rect x="500.30" y="347.90" width="7.70" height="34.30" fill="#2b2a8c"/>
<rect x="500.30" y="345.80" width="7.70" height="2.10" fill="#a33d9c"/>
<rect x="500.30" y="344.00" width="7.70" height="1.80" fill="#e8481e"/>
<rect x="500.30" y="341.00" width="7.70" height="3.00" fill="#f3901c"/>
<rect x="500.30" y="338.50" width="7.70" height="2.50" fill="#9c9a1e"/>
<rect x="500.30" y="337.30" width="7.70" height="1.20" fill="#18955a"/>
<line x1="504.15" y1="382.20" x2="504.15" y2="385.80" stroke="#231f20" stroke-width="1.1" />
<text x="504.37" y="396.20" font-size="7.8" text-anchor="middle" font-weight="normal" fill="#231f20" letter-spacing="0.45">55</text>
<rect x="336.10" y="404.30" width="7.80" height="3.50" fill="#18955a"/>
<text x="347.70" y="408.10" font-size="9.1" text-anchor="start" font-weight="normal" fill="#231f20" >CD3CD8</text>
<rect x="336.10" y="414.80" width="7.80" height="3.50" fill="#9c9a1e"/>
<text x="347.70" y="418.80" font-size="9.1" text-anchor="start" font-weight="normal" fill="#231f20" >CD3CD4</text>
<rect x="390.60" y="404.30" width="7.80" height="3.50" fill="#f3901c"/>
<text x="402.10" y="408.10" font-size="9.1" text-anchor="start" font-weight="normal" fill="#231f20" >B cells</text>
<rect x="390.60" y="414.80" width="7.80" height="3.50" fill="#a33d9c"/>
<text x="402.10" y="418.80" font-size="9.1" text-anchor="start" font-weight="normal" fill="#231f20" >NK cells</text>
<rect x="441.50" y="404.30" width="7.80" height="3.50" fill="#e8481e"/>
<text x="453.10" y="408.10" font-size="8.8" text-anchor="start" font-weight="normal" fill="#231f20" >Monocytes</text>
<rect x="441.50" y="414.80" width="7.80" height="3.50" fill="#2b2a8c"/>
<text x="453.10" y="418.80" font-size="8.8" text-anchor="start" font-weight="normal" fill="#231f20" >Granulocytes</text>
</svg>
</body></html>
